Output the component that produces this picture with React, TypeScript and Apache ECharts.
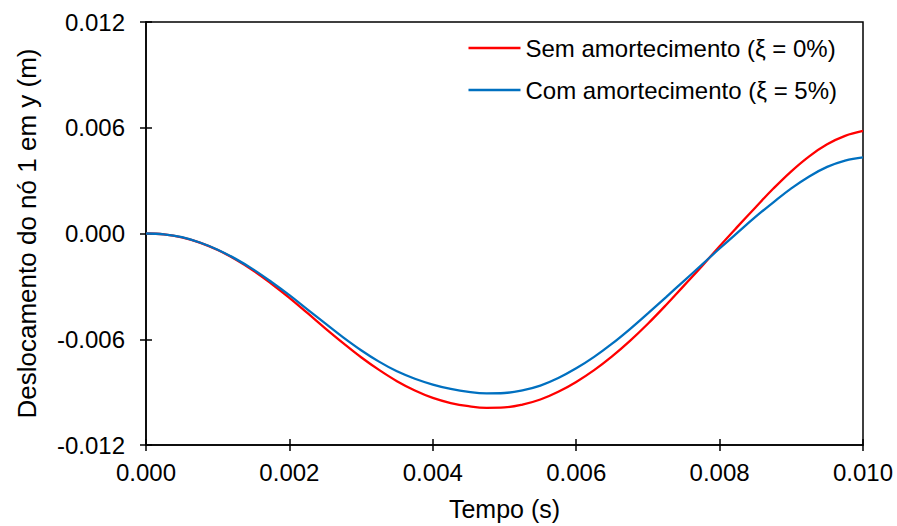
import React, { useEffect, useRef } from "react";
import * as echarts from "echarts";

// Tempo (s), every 0.00025 s
const timeValues = [
  0, 0.00025, 0.0005, 0.00075, 0.001, 0.00125, 0.0015, 0.00175, 0.002, 0.00225,
  0.0025, 0.00275, 0.003, 0.00325, 0.0035, 0.00375, 0.004, 0.00425, 0.0045, 0.00475,
  0.005, 0.00525, 0.0055, 0.00575, 0.006, 0.00625, 0.0065, 0.00675, 0.007, 0.00725,
  0.0075, 0.00775, 0.008, 0.00825, 0.0085, 0.00875, 0.009, 0.00925, 0.0095, 0.00975, 0.01,
];
// Sem amortecimento (ξ = 0%), deslocamento (m)
const semAmortecimento = [
  0, -0.00005, -0.00022, -0.00052, -0.00094, -0.00147, -0.00211, -0.00285, -0.00365, -0.00451,
  -0.00538, -0.00622, -0.00702, -0.00774, -0.00838, -0.00891, -0.00933, -0.00962, -0.0098, -0.00989,
  -0.00987, -0.00971, -0.00942, -0.00898, -0.00842, -0.00775, -0.00697, -0.00609, -0.00512, -0.00407,
  -0.00297, -0.00187, -0.00072, 0.00039, 0.00148, 0.00255, 0.00353, 0.00438, 0.00506, 0.00554, 0.00582,
];
// Com amortecimento (ξ = 5%), deslocamento (m)
const comAmortecimento = [
  0, -0.00005, -0.00021, -0.00051, -0.00092, -0.00144, -0.00205, -0.00275, -0.0035, -0.0043,
  -0.0051, -0.00589, -0.00662, -0.00727, -0.00782, -0.00824, -0.00857, -0.00882, -0.00899, -0.00907,
  -0.00905, -0.0089, -0.00863, -0.0082, -0.00765, -0.007, -0.00625, -0.00542, -0.00453, -0.00362,
  -0.0027, -0.00178, -0.00085, 0.00005, 0.00094, 0.00177, 0.00256, 0.00324, 0.00378, 0.00414, 0.00432,
];
const seriesNames = ["Sem amortecimento (ξ = 0%)", "Com amortecimento (ξ = 5%)"];
const xTicks = { min: 0, max: 0.01, interval: 0.002 };
const yTicks = { min: -0.012, max: 0.012, interval: 0.006 };

const FONT = "Liberation Sans, Arial, sans-serif";

export default function App() {
  const ref = useRef<HTMLDivElement>(null);
  useEffect(() => {
    if (!ref.current) return;
    const chart = echarts.init(ref.current, undefined, { renderer: "svg" });
    const axisCommon = {
      type: "value" as const,
      splitLine: { show: false },
    };
    const tickStyle = { color: "#000", width: 1.5 };
    chart.setOption({
      animation: false,
      backgroundColor: "#ffffff",
      textStyle: { fontFamily: FONT },
      grid: {
        left: 146,
        right: 34,
        top: 22,
        bottom: 81,
        show: true,
        borderColor: "#000",
        borderWidth: 1.5,
      },
      legend: {
        orient: "vertical",
        right: 55,
        top: 31,
        itemWidth: 52,
        itemHeight: 2.5,
        itemGap: 18,
        icon: "rect",
        textStyle: { fontSize: 24, color: "#000", fontFamily: FONT },
        data: seriesNames,
      },
      xAxis: [
        {
          ...axisCommon,
          min: xTicks.min,
          max: xTicks.max,
          interval: xTicks.interval,
          position: "bottom",
          name: "Tempo (s)",
          nameLocation: "middle",
          nameGap: 51,
          nameTextStyle: { fontSize: 25, color: "#000", fontFamily: FONT },
          axisLine: { show: true, onZero: false, lineStyle: { color: "#000", width: 1.5 } },
          axisTick: { show: true, inside: false, length: 6, lineStyle: tickStyle },
          axisLabel: {
            fontSize: 24,
            color: "#000",
            margin: 15,
            fontFamily: FONT,
            formatter: (v: number) => v.toFixed(3),
          },
        },
        {
          ...axisCommon,
          min: xTicks.min,
          max: xTicks.max,
          interval: xTicks.interval,
          position: "bottom",
          offset: 0,
          axisLine: { show: false, onZero: false },
          axisTick: { show: true, inside: true, length: 6, lineStyle: tickStyle },
          axisLabel: { show: false },
        },
      ],
      yAxis: [
        {
          ...axisCommon,
          min: yTicks.min,
          max: yTicks.max,
          interval: yTicks.interval,
          position: "left",
          name: "Deslocamento do nó 1 em y (m)",
          nameLocation: "middle",
          nameGap: 106,
          nameTextStyle: { fontSize: 26, color: "#000", fontFamily: FONT },
          axisLine: { show: true, onZero: false, lineStyle: { color: "#000", width: 1.5 } },
          axisTick: { show: true, inside: false, length: 6, lineStyle: tickStyle },
          axisLabel: {
            fontSize: 24,
            color: "#000",
            margin: 21,
            fontFamily: FONT,
            formatter: (v: number) => v.toFixed(3),
          },
        },
        {
          ...axisCommon,
          min: yTicks.min,
          max: yTicks.max,
          interval: yTicks.interval,
          position: "left",
          offset: 0,
          axisLine: { show: false, onZero: false },
          axisTick: { show: true, inside: true, length: 6, lineStyle: tickStyle },
          axisLabel: { show: false },
        },
      ],
      series: [
        {
          name: seriesNames[0],
          type: "line",
          xAxisIndex: 0,
          yAxisIndex: 0,
          data: timeValues.map((t, i) => [t, semAmortecimento[i]]),
          smooth: 0.4,
          symbol: "none",
          lineStyle: { color: "#FF0000", width: 2.3 },
          itemStyle: { color: "#FF0000" },
          z: 3,
        },
        {
          name: seriesNames[1],
          type: "line",
          xAxisIndex: 0,
          yAxisIndex: 0,
          data: timeValues.map((t, i) => [t, comAmortecimento[i]]),
          smooth: 0.4,
          symbol: "none",
          lineStyle: { color: "#0070C0", width: 2.3 },
          itemStyle: { color: "#0070C0" },
          z: 4,
        },
      ],
    });
    return () => chart.dispose();
  }, []);
  return <div ref={ref} style={{ width: 897, height: 526, position: "fixed", left: 0, top: 0 }} />;
}
